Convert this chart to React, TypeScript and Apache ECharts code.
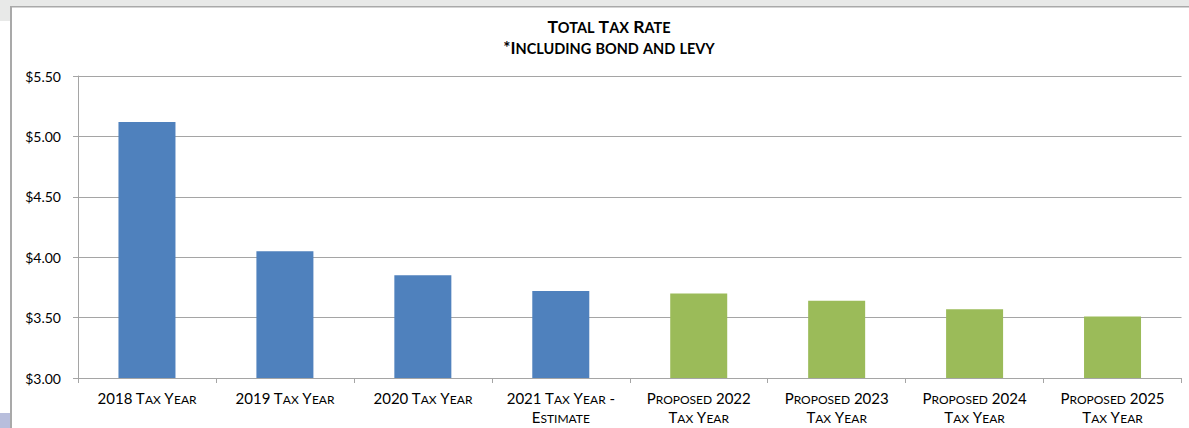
import React, { useEffect, useRef } from "react";
import * as echarts from "echarts";

const categories = [
  "2018 Tax Year",
  "2019 Tax Year",
  "2020 Tax Year",
  "2021 Tax Year -\nEstimate",
  "Proposed 2022\nTax Year",
  "Proposed 2023\nTax Year",
  "Proposed 2024\nTax Year",
  "Proposed 2025\nTax Year",
];
const taxRates = [5.12, 4.05, 3.85, 3.72, 3.7, 3.64, 3.57, 3.51];
const barColors = [
  "#4f81bd", "#4f81bd", "#4f81bd", "#4f81bd",
  "#9bbb59", "#9bbb59", "#9bbb59", "#9bbb59",
];
const titleText = "Total Tax Rate";
const subtitleText = "*Including bond and levy";
const yMin = 3.0;
const yMax = 5.5;
const yStep = 0.5;

// Render text as small caps using rich text tokens
function smallCaps(s: string): string {
  return s
    .split("\n")
    .map((line) => {
      let out = "";
      let cur = "";
      let curSmall: boolean | null = null;
      for (const ch of line) {
        const isSmall = ch !== ch.toUpperCase();
        if (curSmall !== null && isSmall !== curSmall) {
          out += `{${curSmall ? "s" : "b"}|${cur}}`;
          cur = "";
        }
        curSmall = isSmall;
        cur += isSmall ? ch.toUpperCase() : ch;
      }
      if (cur) out += `{${curSmall ? "s" : "b"}|${cur}}`;
      return out;
    })
    .join("\n");
}

export default function App() {
  const ref = useRef<HTMLDivElement>(null);
  useEffect(() => {
    document.body.style.margin = "0";
    const chart = echarts.init(ref.current!, undefined, { renderer: "svg" });
    const gridColor = "#a5a5a5";
    const titleRich = {
      b: { fontFamily: "Lato", fontWeight: "bold", fontSize: 17.5, color: "#000", verticalAlign: "bottom", lineHeight: 20 },
      s: { fontFamily: "Lato", fontWeight: "bold", fontSize: 14.5, color: "#000", verticalAlign: "bottom", lineHeight: 20 },
    };
    const subRich = {
      b: { fontFamily: "Lato", fontWeight: "bold", fontSize: 17, color: "#000", verticalAlign: "bottom", lineHeight: 20 },
      s: { fontFamily: "Lato", fontWeight: "bold", fontSize: 14.5, color: "#000", verticalAlign: "bottom", lineHeight: 20 },
    };
    chart.setOption({
      animation: false,
      backgroundColor: "#ffffff",
      graphic: [
        { type: "rect", shape: { x: 0, y: 0, width: 1189, height: 6 }, style: { fill: "#e8e9e8" }, silent: true },
        { type: "rect", shape: { x: 0, y: 0, width: 10, height: 21 }, style: { fill: "#e8e9e8" }, silent: true },
        { type: "rect", shape: { x: 0, y: 413, width: 10, height: 15 }, style: { fill: "#b8bedc" }, silent: true },
        { type: "rect", shape: { x: 10, y: 6, width: 1179, height: 1.5 }, style: { fill: "#a9a9a9" }, silent: true },
        { type: "rect", shape: { x: 10, y: 6, width: 2, height: 422 }, style: { fill: "#a9a9a9" }, silent: true },
      ],
      title: [
        {
          text: smallCaps(titleText),
          left: 604,
          top: 10,
          textAlign: "center",
          textStyle: { fontFamily: "Lato", fontWeight: "bold", fontSize: 17.5, color: "#000", rich: titleRich },
        },
        {
          text: smallCaps(subtitleText),
          left: 604,
          top: 31,
          textAlign: "center",
          textStyle: { fontFamily: "Lato", fontWeight: "bold", fontSize: 17, color: "#000", rich: subRich },
        },
      ],
      grid: { left: 78, right: 7.5, top: 76, bottom: 50, containLabel: false },
      xAxis: {
        type: "category",
        data: categories,
        axisLine: { show: true, lineStyle: { color: gridColor, width: 1 } },
        axisTick: { show: true, length: 5, lineStyle: { color: gridColor } },
        axisLabel: {
          interval: 0,
          margin: 8,
          fontFamily: "Lato",
          fontSize: 15,
          lineHeight: 19,
          color: "#000",
          formatter: (v: string) => smallCaps(v),
          rich: {
            b: { fontFamily: "Lato", fontSize: 15, color: "#000", verticalAlign: "bottom", lineHeight: 19 },
            s: { fontFamily: "Lato", fontSize: 12, color: "#000", verticalAlign: "bottom", lineHeight: 19 },
          },
        },
      },
      yAxis: {
        type: "value",
        min: yMin,
        max: yMax,
        interval: yStep,
        axisLine: { show: true, lineStyle: { color: gridColor, width: 1 } },
        axisTick: { show: true, length: 5, lineStyle: { color: gridColor } },
        splitLine: { show: true, lineStyle: { color: gridColor, width: 1 } },
        axisLabel: {
          margin: 17,
          fontFamily: "Lato",
          fontSize: 14,
          color: "#000",
          formatter: (v: number) => "$" + v.toFixed(2),
        },
      },
      series: [
        {
          type: "bar",
          barWidth: 57,
          data: taxRates.map((v, i) => ({ value: v, itemStyle: { color: barColors[i] } })),
        },
      ],
    });
    return () => chart.dispose();
  }, []);
  return <div ref={ref} style={{ width: 1189, height: 428 }} />;
}
